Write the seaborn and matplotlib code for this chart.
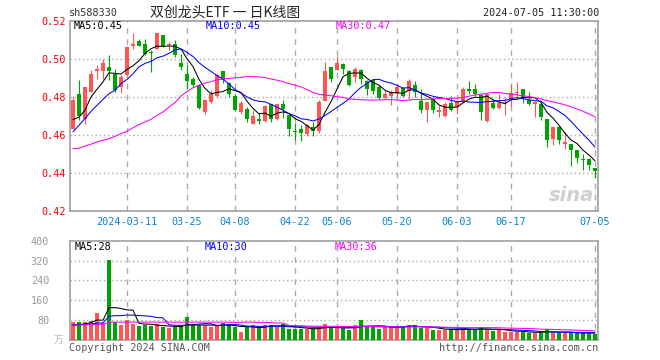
import numpy as np
import pandas as pd
import seaborn as sns
import matplotlib.pyplot as plt

# daily candles 2024-02-27 .. 2024-07-05 (88 trading days)
opens = [0.4632, 0.4816, 0.4684, 0.4828, 0.4941, 0.4940, 0.4958, 0.4925, 0.4854, 0.4916,
         0.5070, 0.5096, 0.5079, 0.5035, 0.5055, 0.5126, 0.5077, 0.5082, 0.4982, 0.4925,
         0.4895, 0.4863, 0.4723, 0.4775, 0.4807, 0.4937, 0.4874, 0.4807, 0.4723, 0.4740,
         0.4661, 0.4684, 0.4674, 0.4763, 0.4688, 0.4763, 0.4709, 0.4623, 0.4632, 0.4609,
         0.4644, 0.4621, 0.4779, 0.4960, 0.4946, 0.4974, 0.4937, 0.4907, 0.4942, 0.4884,
         0.4889, 0.4854, 0.4796, 0.4807, 0.4819, 0.4849, 0.4832, 0.4863, 0.4779, 0.4732,
         0.4789, 0.4723, 0.4702, 0.4772, 0.4749, 0.4775, 0.4842, 0.4842, 0.4811, 0.4674,
         0.4772, 0.4744, 0.4772, 0.4790, 0.4825, 0.4842, 0.4784, 0.4763, 0.4763, 0.4684,
         0.4579, 0.4644, 0.4554, 0.4553, 0.4521, 0.4477, 0.4477, 0.4430]
closes = [0.4784, 0.4702, 0.4853, 0.4925, 0.4947, 0.4981, 0.4937, 0.4840, 0.4907, 0.5067,
          0.5079, 0.5070, 0.5030, 0.5032, 0.5137, 0.5070, 0.5082, 0.5021, 0.4960, 0.4884,
          0.4863, 0.4744, 0.4784, 0.4819, 0.4916, 0.4889, 0.4819, 0.4732, 0.4772, 0.4684,
          0.4702, 0.4674, 0.4754, 0.4688, 0.4763, 0.4737, 0.4632, 0.4619, 0.4614, 0.4653,
          0.4621, 0.4775, 0.4939, 0.4898, 0.4982, 0.4947, 0.4863, 0.4951, 0.4895, 0.4846,
          0.4832, 0.4796, 0.4816, 0.4828, 0.4854, 0.4807, 0.4884, 0.4828, 0.4732, 0.4775,
          0.4732, 0.4732, 0.4767, 0.4732, 0.4779, 0.4842, 0.4832, 0.4816, 0.4723, 0.4819,
          0.4744, 0.4772, 0.4775, 0.4825, 0.4830, 0.4796, 0.4763, 0.4775, 0.4696, 0.4574,
          0.4644, 0.4574, 0.4565, 0.4521, 0.4481, 0.4468, 0.4446, 0.4412]
highs = [0.4807, 0.4889, 0.4853, 0.4942, 0.4968, 0.5000, 0.5025, 0.4951, 0.4916, 0.5070,
         0.5137, 0.5105, 0.5105, 0.5047, 0.5137, 0.5126, 0.5091, 0.5104, 0.5030, 0.4972,
         0.4907, 0.4872, 0.4793, 0.4837, 0.4925, 0.4937, 0.4881, 0.4819, 0.4779, 0.4749,
         0.4732, 0.4719, 0.4761, 0.4767, 0.4763, 0.4784, 0.4714, 0.4667, 0.4653, 0.4661,
         0.4670, 0.4784, 0.4986, 0.4960, 0.5016, 0.4982, 0.4942, 0.4960, 0.4951, 0.4889,
         0.4898, 0.4863, 0.4837, 0.4837, 0.4872, 0.4854, 0.4898, 0.4884, 0.4842, 0.4775,
         0.4789, 0.4758, 0.4775, 0.4807, 0.4779, 0.4854, 0.4884, 0.4872, 0.4816, 0.4819,
         0.4793, 0.4819, 0.4802, 0.4872, 0.4881, 0.4842, 0.4828, 0.4779, 0.4772, 0.4684,
         0.4644, 0.4644, 0.4618, 0.4553, 0.4521, 0.4500, 0.4481, 0.4430]
lows = [0.4632, 0.4679, 0.4661, 0.4828, 0.4898, 0.4898, 0.4889, 0.4828, 0.4825, 0.4916,
        0.5056, 0.5068, 0.5025, 0.4933, 0.5055, 0.5063, 0.5047, 0.5012, 0.4945, 0.4846,
        0.4854, 0.4737, 0.4714, 0.4772, 0.4802, 0.4875, 0.4802, 0.4726, 0.4714, 0.4670,
        0.4661, 0.4658, 0.4670, 0.4670, 0.4682, 0.4691, 0.4596, 0.4574, 0.4568, 0.4596,
        0.4595, 0.4612, 0.4779, 0.4881, 0.4942, 0.4925, 0.4860, 0.4881, 0.4872, 0.4814,
        0.4819, 0.4793, 0.4793, 0.4761, 0.4802, 0.4802, 0.4793, 0.4802, 0.4718, 0.4670,
        0.4719, 0.4696, 0.4696, 0.4726, 0.4714, 0.4775, 0.4819, 0.4807, 0.4679, 0.4670,
        0.4737, 0.4740, 0.4705, 0.4754, 0.4802, 0.4772, 0.4758, 0.4696, 0.4682, 0.4539,
        0.4551, 0.4556, 0.4526, 0.4439, 0.4456, 0.4416, 0.4416, 0.4375]
# volume, 万手
volumes = [73, 72, 72, 77, 109, 69, 324, 73, 60, 80,
           64, 56, 60, 57, 64, 52, 49, 51, 57, 92,
           60, 60, 60, 53, 56, 67, 63, 53, 33, 53,
           60, 51, 60, 60, 53, 64, 45, 45, 43, 43,
           49, 49, 64, 51, 49, 49, 40, 60, 80, 51,
           51, 44, 56, 56, 51, 51, 60, 60, 48, 48,
           42, 40, 41, 44, 42, 43, 43, 43, 51, 43,
           36, 43, 33, 33, 33, 33, 29, 29, 29, 43,
           29, 29, 29, 28, 28, 27, 30, 25]

# MA values for the first days of the window (their history is off-chart)
ma5_head = [0.4682, 0.4696, 0.4732, 0.4802]
ma10_head = [0.4618, 0.4653, 0.4688, 0.4726, 0.4758, 0.4789, 0.4819, 0.4837, 0.4872]
ma30_head = [0.4530, 0.4532, 0.4544, 0.4553, 0.4565, 0.4574, 0.4582, 0.4595, 0.4609, 0.4621,
             0.4640, 0.4656, 0.4670, 0.4684, 0.4705, 0.4723, 0.4749, 0.4772, 0.4807, 0.4830,
             0.4850, 0.4862, 0.4875, 0.4882, 0.4892, 0.4898, 0.4900, 0.4902, 0.4904]
vma5_head = [59, 62, 65, 70]
vma10_head = [61, 62, 63, 64, 68, 69, 96, 98, 98]
vma30_head = [60, 60, 61, 61, 63, 63, 72, 72, 72, 72, 72, 72, 72, 72, 72,
              72, 72, 72, 72, 72, 72, 72, 72, 72, 72, 72, 72, 71, 71]

tick_pos = [9, 19, 27, 37, 44, 54, 64, 73, 87]
tick_labels = ['2024-03-11', '03-25', '04-08', '04-22', '05-06',
               '05-20', '06-03', '06-17', '07-05']
price_ticks = [0.42, 0.44, 0.46, 0.48, 0.50, 0.52]
vol_ticks = [0, 80, 160, 240, 320, 400]

RED = '#ff5555'
GREEN = '#00a400'
GRID = '#aaaaaa'
FRAME = '#a0a0a0'
MONO = 'DejaVu Sans Mono'


def moving_avg(values, n, head):
    ma = pd.Series(values, dtype=float).rolling(n).mean()
    ma.iloc[:n - 1] = head
    return ma


df = pd.DataFrame({'open': opens, 'close': closes, 'high': highs,
                   'low': lows, 'vol': volumes})
df['x'] = np.arange(len(df))
df['ma5'] = moving_avg(closes, 5, ma5_head)
df['ma10'] = moving_avg(closes, 10, ma10_head)
df['ma30'] = moving_avg(closes, 30, ma30_head)
df['vma5'] = moving_avg(volumes, 5, vma5_head)
df['vma10'] = moving_avg(volumes, 10, vma10_head)
df['vma30'] = moving_avg(volumes, 30, vma30_head)
colors = np.where(df['close'] >= df['open'], RED, GREEN)

sns.set_theme(style='white')
plt.rcParams['font.family'] = [MONO, 'Noto Sans CJK SC']

W, H = 660, 360
fig = plt.figure(figsize=(6.6, 3.6), dpi=100)
ax = fig.add_axes([70 / W, 1 - 211.3 / H, 528 / W, 190 / H])
axv = fig.add_axes([70 / W, 1 - 340 / H, 528 / W, 99.3 / H])

# candles
ax.vlines(df['x'], df['low'], df['high'], colors=colors, lw=0.8, zorder=3)
body_low = np.minimum(df['open'], df['close'])
body_h = np.maximum((df['close'] - df['open']).abs(), 0.0005)
ax.bar(df['x'], body_h, bottom=body_low, width=0.82, color=colors, linewidth=0, zorder=3)
sns.lineplot(data=df, x='x', y='ma5', ax=ax, color='black', lw=0.75, zorder=4)
sns.lineplot(data=df, x='x', y='ma10', ax=ax, color='#0000ff', lw=0.75, zorder=4)
sns.lineplot(data=df, x='x', y='ma30', ax=ax, color='#ff00ff', lw=0.75, zorder=4)

# volume
axv.bar(df['x'], df['vol'], width=0.82, color=colors, linewidth=0, zorder=3)
sns.lineplot(data=df, x='x', y='vma5', ax=axv, color='black', lw=0.75, zorder=4)
sns.lineplot(data=df, x='x', y='vma10', ax=axv, color='#0000ff', lw=0.75, zorder=4)
sns.lineplot(data=df, x='x', y='vma30', ax=axv, color='#ff00ff', lw=0.75, zorder=4)

for a in (ax, axv):
    a.set_xlim(-0.5, len(df) - 0.5)
    a.set_xlabel('')
    a.set_ylabel('')
    for p in tick_pos:
        a.axvline(p, color=GRID, lw=1, ls=(0, (4, 4)), zorder=1)
    for s in a.spines.values():
        s.set_color(FRAME)
        s.set_linewidth(1.2)
    a.tick_params(length=0)

ax.set_ylim(0.42, 0.52)
ax.set_yticks(price_ticks)
ax.set_yticklabels([f'{t:.2f}' for t in price_ticks], color='red', fontsize=7.3)
ax.tick_params(axis='y', pad=3)
for t in price_ticks[1:-1]:
    ax.axhline(t, color=GRID, lw=1, ls=(0, (1, 2)), zorder=1)
ax.set_xticks(tick_pos)
ax.set_xticklabels(tick_labels, color='#0a84d6', fontsize=7.3)
ax.tick_params(axis='x', pad=4)

axv.set_ylim(0, 400)
axv.set_yticks(vol_ticks)
axv.set_yticklabels([''] + [str(t) for t in vol_ticks[1:]], color='#999999', fontsize=7.3)
axv.tick_params(axis='y', pad=15)
axv.set_xticks([])
for t in vol_ticks[1:-1]:
    axv.axhline(t, color=GRID, lw=1, ls=(0, (1, 2)), zorder=1)


def px_text(x, y, s, **kw):
    fig.text(x / W, 1 - y / H, s, va='center', **kw)


px_text(69, 13, 'sh588330', fontsize=7.3, color='#333333')
px_text(225, 13, '双创龙头ETF 一 日K线图', fontsize=10, ha='center',
        family=['Noto Sans CJK SC', 'DejaVu Sans'])
px_text(599, 13, '2024-07-05 11:30:00', fontsize=7.3, ha='right', color='#222222')

last = df.iloc[-1]
px_text(74, 26, f"MA5:{last['ma5']:.2f}", fontsize=7.3, color='black')
px_text(206, 26, f"MA10:{last['ma10']:.2f}", fontsize=7.3, color='#0000ff')
px_text(336, 26, f"MA30:{last['ma30']:.2f}", fontsize=7.3, color='#ff00ff')
px_text(75, 247, f"MA5:{last['vma5']:.0f}", fontsize=7.3, color='black')
px_text(205, 247, f"MA10:{last['vma10']:.0f}", fontsize=7.3, color='#0000ff')
px_text(335, 247, f"MA30:{last['vma30']:.0f}", fontsize=7.3, color='#ff00ff')

px_text(63, 340, '万', fontsize=7, ha='right', color='#bbbbbb',
        family=['Noto Sans CJK SC', 'DejaVu Sans'])
px_text(69, 348, 'Copyright 2024 SINA.COM', fontsize=7.3, color='#555555')
px_text(598, 348, 'http://finance.sina.com.cn', fontsize=7.3, ha='right', color='#555555')
px_text(594, 196, 'sina', fontsize=14, ha='right', color='#d0d0d0',
        style='italic', weight='bold', family='DejaVu Sans')

fig.savefig('out.png', dpi=100)
